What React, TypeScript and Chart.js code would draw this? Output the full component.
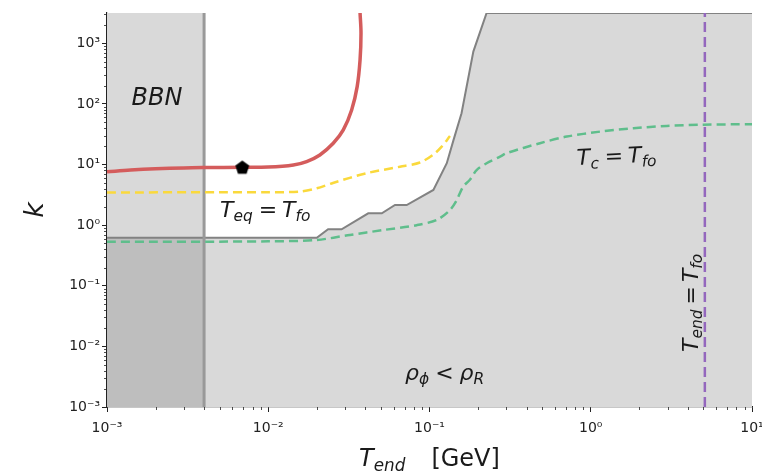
import React, { useEffect, useRef } from 'react';
import { Chart, registerables } from 'chart.js';

Chart.register(...registerables);

// ---- axis ranges & ticks ----
const X_MIN = 1e-3;
const X_MAX = 10;
const Y_MIN = 1e-3;
const Y_MAX = 3162;
const xDecades = [1e-3, 1e-2, 1e-1, 1, 10];
const yDecades = [1e-3, 1e-2, 1e-1, 1, 10, 100, 1000];
const xTickLabels = ['10⁻³', '10⁻²', '10⁻¹', '10⁰', '10¹'];
const yTickLabels = ['10⁻³', '10⁻²', '10⁻¹', '10⁰', '10¹', '10²', '10³'];

// ---- regions ----
const boundaryX = [0.001, 0.02, 0.0235, 0.0285, 0.0417, 0.0506, 0.0611, 0.0722, 0.1057, 0.128, 0.141, 0.158, 0.187, 0.226, 10];
const boundaryY = [0.62, 0.62, 0.855, 0.855, 1.57, 1.57, 2.15, 2.15, 3.81, 10.5, 25.5, 70, 730, 3162, 3162];
const bbnX = [0.001, 0.004];
const bbnTopY = [3162, 3162];
const overlapY = [0.62, 0.62];
const bbnLineX = [0.004, 0.004];
const bbnLineY = [0.001, 3162];

// ---- curves ----
const redX = [0.001, 0.0014, 0.002, 0.003, 0.004, 0.007, 0.01, 0.01432, 0.0173, 0.0209, 0.0253, 0.0292, 0.0329, 0.0356, 0.0371, 0.0376, 0.0371];
const redY = [7.6, 8.1, 8.5, 8.8, 8.9, 9.0, 9.1, 9.85, 11.2, 14.4, 22.4, 37.2, 79.6, 193, 532, 1462, 3162];
const yellowX = [0.001, 0.005, 0.01, 0.0157, 0.02, 0.0252, 0.0408, 0.0656, 0.0873, 0.1057, 0.119, 0.134];
const yellowY = [3.45, 3.5, 3.5, 3.57, 4.05, 4.97, 7.2, 9.2, 10.8, 14.6, 19.7, 29.5];
const greenX = [0.001, 0.01, 0.02, 0.0321, 0.0515, 0.0834, 0.111, 0.134, 0.1476, 0.1615, 0.178, 0.196, 0.226, 0.274, 0.301, 0.484, 0.71, 1.14, 1.84, 2.96, 4.99, 10];
const greenY = [0.53, 0.54, 0.57, 0.69, 0.83, 1.0, 1.22, 1.78, 2.6, 4.3, 5.6, 8.1, 10.5, 13.5, 15.4, 22.5, 28.9, 34.9, 39.7, 43.4, 45.5, 46.2];
const purpleX = [5.1, 5.1];
const purpleY = [0.001, 3162];
const markerX = [0.0069];
const markerY = [9.0];

const zip = (xs: number[], ys: number[]) => xs.map((x, i) => ({ x, y: ys[i] }));

type Run = { t: string; italic?: boolean; sub?: boolean; pre?: number; post?: number };
const FAMILY = '"DejaVu Sans"';

function runFont(r: Run, size: number) {
  const s = r.sub ? size * 0.7 : size;
  return `${r.italic ? 'italic ' : ''}${s}px ${FAMILY}`;
}
function measureRuns(ctx: CanvasRenderingContext2D, runs: Run[], size: number) {
  let w = 0;
  for (const r of runs) {
    ctx.font = runFont(r, size);
    w += (r.pre || 0) + ctx.measureText(r.t).width + (r.post || 0);
  }
  return w;
}
function drawRuns(ctx: CanvasRenderingContext2D, runs: Run[], size: number, x: number, y: number, align: 'left' | 'center') {
  const w = measureRuns(ctx, runs, size);
  let cx = align === 'center' ? x - w / 2 : x;
  ctx.textAlign = 'left';
  ctx.textBaseline = 'alphabetic';
  for (const r of runs) {
    ctx.font = runFont(r, size);
    cx += r.pre || 0;
    ctx.fillText(r.t, cx, y + (r.sub ? size * 0.2 : 0));
    cx += ctx.measureText(r.t).width + (r.post || 0);
  }
}

const annotPlugin = {
  id: 'annot',
  afterDraw(chart: any) {
    const { ctx, chartArea } = chart;
    const xs = chart.scales.x;
    const ys = chart.scales.y;
    ctx.save();
    // minor ticks
    ctx.strokeStyle = '#222';
    ctx.lineWidth = 0.8;
    ctx.beginPath();
    for (let i = 0; i < xDecades.length - 1; i++) {
      for (let k = 2; k <= 9; k++) {
        const px = Math.round(xs.getPixelForValue(k * xDecades[i])) + 0.5;
        ctx.moveTo(px, chartArea.bottom);
        ctx.lineTo(px, chartArea.bottom + 3);
      }
    }
    for (let i = 0; i < yDecades.length; i++) {
      for (let k = 2; k <= 9; k++) {
        const v = k * yDecades[i];
        if (v > Y_MAX) continue;
        const py = Math.round(ys.getPixelForValue(v)) + 0.5;
        ctx.moveTo(chartArea.left - 3, py);
        ctx.lineTo(chartArea.left, py);
      }
    }
    ctx.stroke();

    ctx.fillStyle = '#1a1a1a';
    // BBN
    drawRuns(ctx, [{ t: 'BBN', italic: true }], 24, xs.getPixelForValue(0.00204), ys.getPixelForValue(96), 'center');
    // T_eq = T_fo
    drawRuns(ctx, [
      { t: 'T', italic: true },
      { t: 'eq', italic: true, sub: true, post: 6 },
      { t: '=', post: 5 },
      { t: 'T', italic: true },
      { t: 'fo', italic: true, sub: true },
    ], 22, xs.getPixelForValue(0.00502), ys.getPixelForValue(1.36), 'left');
    // T_c = T_fo (slightly tilted)
    ctx.save();
    ctx.translate(xs.getPixelForValue(0.822), ys.getPixelForValue(9.85));
    ctx.rotate(-0.045);
    drawRuns(ctx, [
      { t: 'T', italic: true },
      { t: 'c', italic: true, sub: true, post: 6 },
      { t: '=', post: 5 },
      { t: 'T', italic: true },
      { t: 'fo', italic: true, sub: true },
    ], 22, 0, 0, 'left');
    ctx.restore();
    // rho_phi < rho_R
    drawRuns(ctx, [
      { t: 'ρ', italic: true },
      { t: 'ϕ', italic: true, sub: true, post: 6 },
      { t: '<', post: 6 },
      { t: 'ρ', italic: true },
      { t: 'R', italic: true, sub: true },
    ], 22, xs.getPixelForValue(0.0705), ys.getPixelForValue(0.00279), 'left');
    // T_end = T_fo (vertical)
    ctx.save();
    ctx.translate(xs.getPixelForValue(4.62), ys.getPixelForValue(0.0081));
    ctx.rotate(-Math.PI / 2);
    drawRuns(ctx, [
      { t: 'T', italic: true },
      { t: 'end', italic: true, sub: true, post: 5 },
      { t: '=', post: 4 },
      { t: 'T', italic: true },
      { t: 'fo', italic: true, sub: true },
    ], 22, 0, 0, 'left');
    ctx.restore();

    // axis titles
    const cxTitle = (chartArea.left + chartArea.right) / 2;
    drawRuns(ctx, [
      { t: 'T', italic: true },
      { t: 'end', italic: true, sub: true, post: 26 },
      { t: '[GeV]' },
    ], 24, cxTitle, chartArea.bottom + 59, 'center');
    ctx.save();
    ctx.translate(43, (chartArea.top + chartArea.bottom) / 2);
    ctx.rotate(-Math.PI / 2);
    drawRuns(ctx, [{ t: 'k', italic: true }], 27, 0, 0, 'center');
    ctx.restore();

    ctx.restore();
  },
};

export default function App() {
  const ref = useRef<HTMLCanvasElement>(null);
  useEffect(() => {
    if (!ref.current) return;
    const pent = document.createElement('canvas');
    pent.width = 16;
    pent.height = 16;
    const pc = pent.getContext('2d')!;
    pc.fillStyle = '#000';
    pc.beginPath();
    for (let i = 0; i < 5; i++) {
      const a = -Math.PI / 2 + (i * 2 * Math.PI) / 5;
      const px = 8 + 7.3 * Math.cos(a);
      const py = 8.6 + 7.3 * Math.sin(a);
      if (i === 0) pc.moveTo(px, py);
      else pc.lineTo(px, py);
    }
    pc.closePath();
    pc.fill();

    const LIGHT = '#d9d9d9';
    const DARK = '#bebebe';
    const base = { pointRadius: 0, pointHoverRadius: 0, tension: 0 };

    const chart = new Chart(ref.current, {
      type: 'line',
      data: {
        datasets: [
          { ...base, data: zip(boundaryX, boundaryY), fill: 'start', backgroundColor: LIGHT, borderWidth: 0, borderColor: 'transparent', order: 100 } as any,
          { ...base, data: zip(bbnX, bbnTopY), fill: 'start', backgroundColor: LIGHT, borderWidth: 0, borderColor: 'transparent', order: 90 } as any,
          { ...base, data: zip(bbnX, overlapY), fill: 'start', backgroundColor: DARK, borderWidth: 0, borderColor: 'transparent', order: 80 } as any,
          { ...base, data: zip(boundaryX, boundaryY), fill: false, borderColor: '#828282', borderWidth: 2, order: 70 } as any,
          { ...base, data: zip(bbnLineX, bbnLineY), fill: false, borderColor: '#999999', borderWidth: 3, order: 60 } as any,
          { ...base, data: zip(greenX, greenY), fill: false, borderColor: '#5fbe8c', borderWidth: 2.5, borderDash: [9, 5], tension: 0.3, order: 50 } as any,
          { ...base, data: zip(yellowX, yellowY), fill: false, borderColor: '#fad93c', borderWidth: 2.5, borderDash: [9, 5], tension: 0.3, order: 40 } as any,
          { ...base, data: zip(redX, redY), fill: false, borderColor: '#d45c5c', borderWidth: 3.5, tension: 0.35, order: 30 } as any,
          { ...base, data: zip(purpleX, purpleY), fill: false, borderColor: '#9467bd', borderWidth: 2.5, borderDash: [10, 5], order: 20 } as any,
          { data: zip(markerX, markerY), showLine: false, pointStyle: pent, pointRadius: 7, order: 10 } as any,
        ],
      },
      plugins: [annotPlugin],
      options: {
        responsive: false,
        animation: false,
        events: [],
        layout: { padding: { top: 13, right: 10, left: 0, bottom: 0 } },
        plugins: { legend: { display: false }, tooltip: { enabled: false } },
        scales: {
          x: {
            type: 'logarithmic',
            min: X_MIN,
            max: X_MAX,
            afterBuildTicks: (s: any) => { s.ticks = xDecades.map((v) => ({ value: v, major: true })); },
            afterFit: (s: any) => { s.height = 69; s.paddingLeft = 0; s.paddingRight = 0; },
            ticks: {
              autoSkip: false, maxRotation: 0, minRotation: 0, padding: 8,
              color: '#222', font: { family: 'DejaVu Sans', size: 14 },
              callback: (_v: any, i: number) => xTickLabels[i],
            },
            grid: { drawOnChartArea: false, tickLength: 5, tickColor: '#222', tickWidth: 1 },
            border: { display: true, color: '#222', width: 1.2 },
          },
          y: {
            type: 'logarithmic',
            min: Y_MIN,
            max: Y_MAX,
            afterBuildTicks: (s: any) => { s.ticks = yDecades.map((v) => ({ value: v, major: true })); },
            afterFit: (s: any) => { s.width = 107; s.paddingTop = 0; s.paddingBottom = 0; },
            ticks: {
              autoSkip: false, padding: 2,
              color: '#222', font: { family: 'DejaVu Sans', size: 14 },
              callback: (_v: any, i: number) => yTickLabels[i],
            },
            grid: { drawOnChartArea: false, tickLength: 5, tickColor: '#222', tickWidth: 1 },
            border: { display: true, color: '#222', width: 1.2 },
          },
        },
      } as any,
    });
    return () => chart.destroy();
  }, []);
  return (
    <div style={{ position: 'absolute', left: 0, top: 0, width: 762, height: 476, background: '#fff' }}>
      <canvas ref={ref} width={762} height={476} style={{ display: 'block' }} />
    </div>
  );
}
